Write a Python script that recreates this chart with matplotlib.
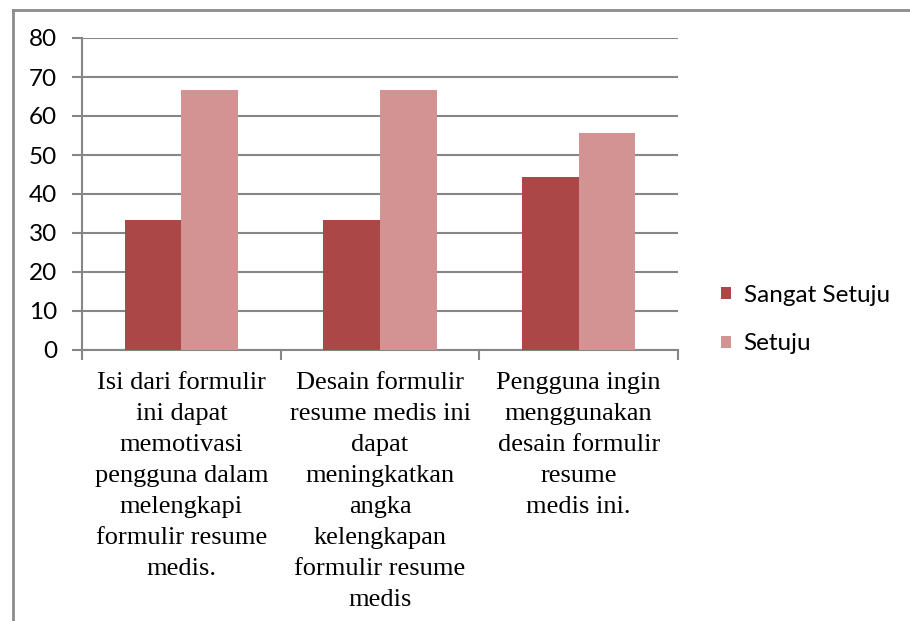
import matplotlib
matplotlib.use("Agg")
import matplotlib.pyplot as plt
import numpy as np
from matplotlib.lines import Line2D

categories = [
    "Isi dari formulir\nini dapat\nmemotivasi\npengguna dalam\nmelengkapi\nformulir resume\nmedis.",
    "Desain formulir\nresume medis ini\ndapat\nmeningkatkan\nangka\nkelengkapan\nformulir resume\nmedis",
    "Pengguna ingin\nmenggunakan\ndesain formulir\nresume\nmedis ini.",
]
sangat_setuju = [33.3, 33.3, 44.4]
setuju = [66.7, 66.7, 55.6]
series_names = ["Sangat Setuju", "Setuju"]
yticks = [0, 10, 20, 30, 40, 50, 60, 70, 80]

c_dark = "#AB4746"
c_light = "#D39392"
gray = "#868686"

fig = plt.figure(figsize=(9.1, 6.21), dpi=100)
ax = fig.add_axes([82/910, 1-350/621, (678-82)/910, (350-38)/621])

x = np.arange(len(categories))
w = 0.285
b1 = ax.bar(x - w/2, sangat_setuju, width=w, color=c_dark, label=series_names[0], zorder=3)
b2 = ax.bar(x + w/2, setuju, width=w, color=c_light, label=series_names[1], zorder=3)

ax.set_xlim(-0.5, len(categories) - 0.5)
ax.set_ylim(0, 80)
ax.set_yticks(yticks)
ax.set_yticklabels([str(v) for v in yticks])
ax.yaxis.grid(True, color=gray, linewidth=1.5, zorder=0)
ax.set_axisbelow(True)

ax.set_xticks([])
ax.set_xticks(np.arange(-0.5, len(categories)), minor=True)
ax.tick_params(axis="x", which="minor", length=7, width=1.5, color=gray, direction="out")
ax.tick_params(axis="y", length=7, width=1.5, color=gray, direction="out", pad=11,
               labelsize=17.5, labelfontfamily="Lato")

for i, lab in enumerate(categories):
    ax.text(i, -5.6, lab, ha="center", va="top", fontsize=19,
            family="Liberation Serif", linespacing=1.53,
            transform=ax.transData)

for s in ["top", "right"]:
    ax.spines[s].set_visible(False)
for s in ["left", "bottom"]:
    ax.spines[s].set_color(gray)
    ax.spines[s].set_linewidth(1.5)

leg = fig.legend(handles=[b1, b2], labels=series_names, loc="center left",
                 bbox_to_anchor=(709/910, 1-319.5/621), frameon=False,
                 prop={"family": "Lato", "size": 17.5}, borderpad=0,
                 handlelength=0.42, handleheight=0.42, labelspacing=1.15,
                 handletextpad=0.5)

fig.add_artist(Line2D([13/910, 13/910], [0, 1-10/621], color="#8C8C8C", linewidth=2, transform=fig.transFigure))
fig.add_artist(Line2D([13/910, 1], [1-10/621, 1-10/621], color="#8C8C8C", linewidth=2, transform=fig.transFigure))

fig.savefig("out.png", dpi=100)
